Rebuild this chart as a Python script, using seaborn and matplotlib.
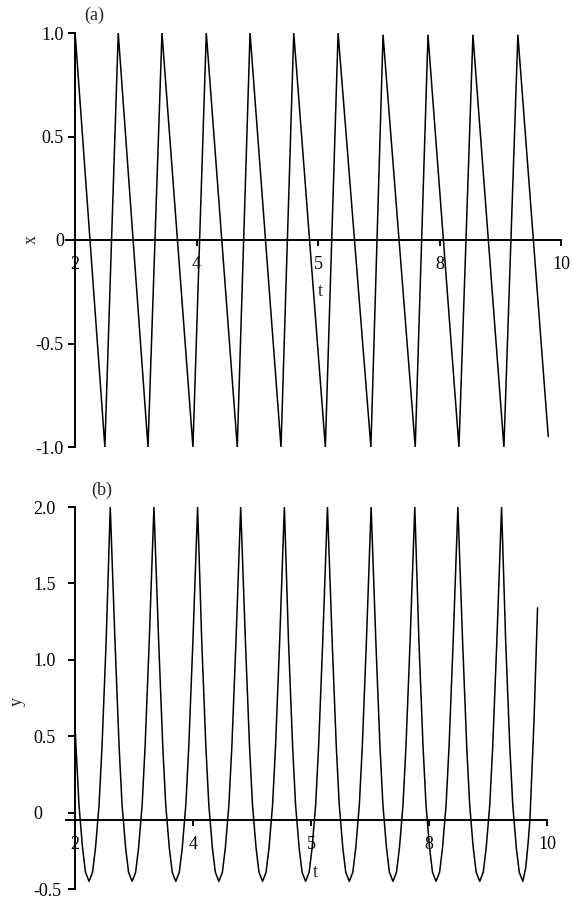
import matplotlib
matplotlib.use("Agg")
import matplotlib.pyplot as plt
import pandas as pd
import seaborn as sns

# panel (a): x(t), corners of the zigzag
t_a = [2.00, 2.49, 2.71, 3.20, 3.43, 3.94, 4.16, 4.67, 4.88, 5.39, 5.60,
       6.12, 6.33, 6.87, 7.07, 7.60, 7.81, 8.32, 8.55, 9.06, 9.29, 9.79]
x_a = [1.00, -1.00, 1.00, -1.00, 1.00, -1.00, 1.00, -1.00, 1.00, -1.00, 1.00,
       -1.00, 1.00, -1.00, 0.99, -1.00, 0.99, -1.00, 0.99, -1.00, 0.99, -0.95]

# panel (b): y(t), one row per cycle (trough in the middle, peak at the end)
t_b = [2.00, 2.02, 2.07, 2.13, 2.18, 2.24, 2.30, 2.35, 2.41, 2.46, 2.53, 2.60,
       2.68, 2.75, 2.80, 2.86, 2.91, 2.97, 3.03, 3.08, 3.14, 3.19, 3.26, 3.34,
       3.42, 3.49, 3.54, 3.60, 3.65, 3.71, 3.77, 3.82, 3.88, 3.93, 4.00, 4.08,
       4.15, 4.22, 4.27, 4.33, 4.38, 4.44, 4.50, 4.55, 4.61, 4.66, 4.73, 4.81,
       4.89, 4.96, 5.01, 5.07, 5.12, 5.18, 5.24, 5.29, 5.35, 5.40, 5.47, 5.55,
       5.62, 5.69, 5.74, 5.80, 5.85, 5.91, 5.97, 6.02, 6.08, 6.13, 6.20, 6.28,
       6.36, 6.43, 6.48, 6.54, 6.59, 6.65, 6.71, 6.76, 6.82, 6.87, 6.94, 7.02,
       7.10, 7.17, 7.22, 7.28, 7.33, 7.39, 7.45, 7.50, 7.56, 7.61, 7.68, 7.76,
       7.83, 7.90, 7.95, 8.01, 8.06, 8.12, 8.18, 8.23, 8.29, 8.34, 8.41, 8.49,
       8.57, 8.64, 8.69, 8.75, 8.80, 8.86, 8.92, 8.97, 9.03, 9.08, 9.15, 9.23,
       9.30, 9.37, 9.42, 9.48, 9.53, 9.59, 9.64, 9.68, 9.71, 9.78, 9.84]
y_b = [0.58, 0.43, 0.05, -0.23, -0.39, -0.45, -0.39, -0.23, 0.05, 0.43, 1.12, 2.00,
       1.12, 0.43, 0.05, -0.23, -0.39, -0.45, -0.39, -0.23, 0.05, 0.43, 1.12, 2.00,
       1.12, 0.43, 0.05, -0.23, -0.39, -0.45, -0.39, -0.23, 0.05, 0.43, 1.12, 2.00,
       1.12, 0.43, 0.05, -0.23, -0.39, -0.45, -0.39, -0.23, 0.05, 0.43, 1.12, 2.00,
       1.12, 0.43, 0.05, -0.23, -0.39, -0.45, -0.39, -0.23, 0.05, 0.43, 1.12, 2.00,
       1.12, 0.43, 0.05, -0.23, -0.39, -0.45, -0.39, -0.23, 0.05, 0.43, 1.12, 2.00,
       1.12, 0.43, 0.05, -0.23, -0.39, -0.45, -0.39, -0.23, 0.05, 0.43, 1.12, 2.00,
       1.12, 0.43, 0.05, -0.23, -0.39, -0.45, -0.39, -0.23, 0.05, 0.43, 1.12, 2.00,
       1.12, 0.43, 0.05, -0.23, -0.39, -0.45, -0.39, -0.23, 0.05, 0.43, 1.12, 2.00,
       1.12, 0.43, 0.05, -0.23, -0.39, -0.45, -0.39, -0.23, 0.05, 0.43, 1.12, 2.00,
       1.12, 0.43, 0.05, -0.23, -0.39, -0.45, -0.36, -0.20, -0.05, 0.60, 1.34]

x_ticks = [2, 4, 6, 8, 10]
x_tick_labels = ["2", "4", "5", "8", "10"]
ya_ticks = [-1.0, -0.5, 0, 0.5, 1.0]
ya_tick_labels = ["-1.0", "-0.5", "0", "0.5", "1.0"]
yb_ticks = [-0.5, 0, 0.5, 1.0, 1.5, 2.0]
yb_tick_labels = ["-0.5", "0", "0.5", "1.0", "1.5", "2.0"]

sns.set_theme(style="white")
plt.rcParams["font.family"] = ["Liberation Serif", "DejaVu Serif"]
plt.rcParams["font.size"] = 13

fig = plt.figure(figsize=(5.73, 9.01), dpi=100)
ax_a = fig.add_axes([66 / 573, 1 - 447 / 901, 495 / 573, 414 / 901])
ax_b = fig.add_axes([66 / 573, 1 - 889 / 901, 481 / 573, 382 / 901])


def style_axis(ax, yticks, ylabels, ylim, x_axis_at, ypad=3):
    ax.set_facecolor("none")
    ax.set_xlim(1.85, 10.0)
    ax.set_ylim(*ylim)
    for side in ["top", "right"]:
        ax.spines[side].set_visible(False)
    ax.spines["left"].set_position(("data", 2))
    ax.spines["left"].set_bounds(*ylim)
    ax.spines["bottom"].set_position(("data", x_axis_at))
    for side in ["left", "bottom"]:
        ax.spines[side].set_color("black")
        ax.spines[side].set_linewidth(1.4)
    ax.set_xticks(x_ticks)
    ax.set_xticklabels(x_tick_labels)
    ax.set_yticks(yticks)
    ax.set_yticklabels(ylabels)
    ax.tick_params(axis="x", direction="out", length=4.5, width=1.4,
                   pad=7, colors="black", labelsize=13, bottom=True)
    ax.tick_params(axis="y", direction="out", length=5, width=1.4,
                   pad=ypad, colors="black", labelsize=13, left=True)
    ax.set_xlabel("")
    ax.grid(False)


df_a = pd.DataFrame({"t": t_a, "x": x_a})
sns.lineplot(data=df_a, x="t", y="x", ax=ax_a, color="black", linewidth=1.1,
             sort=False, estimator=None)
style_axis(ax_a, ya_ticks, ya_tick_labels, (-1.0, 1.0), 0)
ax_a.set_ylabel("x", fontsize=13, va="center")
ax_a.yaxis.set_label_coords(-0.07, 0.5)
ax_a.text(6.03, -0.25, "t", fontsize=13, ha="center", va="center")
ax_a.text(2.32, 1.085, "(a)", fontsize=13, ha="center", va="center")

df_b = pd.DataFrame({"t": t_b, "y": y_b})
sns.lineplot(data=df_b, x="t", y="y", ax=ax_b, color="black", linewidth=1.1,
             sort=False, estimator=None)
# the y labels of panel (b) line up on their left edge
style_axis(ax_b, yb_ticks, yb_tick_labels, (-0.5, 2.0), -0.046, ypad=25)
for lab in ax_b.get_yticklabels():
    lab.set_horizontalalignment("left")
ax_b.set_ylabel("y", fontsize=13, va="center")
ax_b.yaxis.set_label_coords(-0.102, 0.49)
ax_b.text(6.07, -0.39, "t", fontsize=13, ha="center", va="center")
ax_b.text(2.45, 2.11, "(b)", fontsize=13, ha="center", va="center")

fig.savefig("out.png", dpi=100)
